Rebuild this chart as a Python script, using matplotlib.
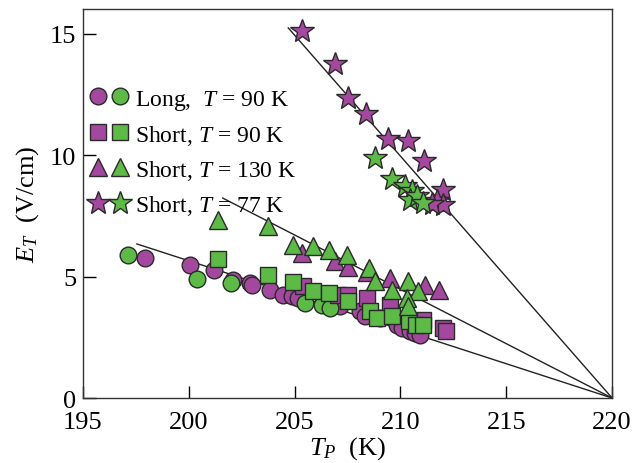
import matplotlib
matplotlib.use("Agg")
import matplotlib.pyplot as plt
from matplotlib.lines import Line2D
from matplotlib.legend_handler import HandlerTuple

plt.rcParams['font.family'] = ['Liberation Serif', 'DejaVu Serif']
plt.rcParams['mathtext.fontset'] = 'custom'
plt.rcParams['mathtext.rm'] = 'Liberation Serif'
plt.rcParams['mathtext.it'] = 'Liberation Serif:italic'

PURPLE = '#A4489F'
GREEN = '#5DBA47'
EDGE = '#2a2a2a'

# Long, T = 90 K (circles)
circ_p_T = [197.93, 200.06, 201.19, 202.09, 202.89, 202.99, 203.84, 204.45, 204.88, 205.16,
            207.15, 208.09, 208.33, 209.04, 209.84, 210.08, 210.45, 210.69, 210.93]
circ_p_E = [5.76, 5.47, 5.27, 4.86, 4.73, 4.65, 4.44, 4.24, 4.20, 4.12,
            3.79, 3.58, 3.37, 3.29, 3.00, 2.88, 2.76, 2.67, 2.59]
circ_g_T = [197.13, 200.39, 201.99, 205.49, 206.29, 206.67]
circ_g_E = [5.88, 4.90, 4.73, 3.91, 3.83, 3.70]

# Short, T = 90 K (squares)
sq_p_T = [205.40, 207.05, 207.52, 208.42, 209.51, 211.07, 212.01, 212.16]
sq_p_E = [4.61, 4.24, 4.24, 4.12, 3.83, 3.21, 2.88, 2.76]
sq_g_T = [201.38, 203.74, 204.92, 205.87, 206.63, 207.52, 208.56, 208.89, 209.60, 210.41, 210.74, 211.07]
sq_g_E = [5.72, 5.06, 4.77, 4.40, 4.32, 3.99, 3.58, 3.29, 3.37, 3.17, 3.00, 3.00]

# Short, T = 130 K (triangles)
tri_p_T = [205.35, 206.91, 207.52, 208.42, 209.51, 211.16, 211.82]
tri_p_E = [5.97, 5.64, 5.39, 5.20, 4.94, 4.65, 4.44]
tri_g_T = [201.38, 203.74, 204.92, 205.87, 206.63, 207.48, 208.52, 208.80, 209.60, 210.36, 210.83, 210.31, 210.36]
tri_g_E = [7.33, 7.08, 6.30, 6.26, 6.09, 5.88, 5.35, 4.81, 4.44, 4.81, 4.40, 4.12, 3.79]

# Short, T = 77 K (stars)
star_p_T = [205.35, 206.91, 207.52, 208.37, 209.41, 210.36, 211.11, 212.01, 211.73, 212.01, 211.50]
star_p_E = [15.1, 13.74, 12.35, 11.69, 10.66, 10.58, 9.75, 8.56, 8.11, 7.94, 8.00]
star_g_T = [208.80, 209.60, 210.22, 210.55, 210.45, 210.78, 211.07]
star_g_E = [9.88, 9.01, 8.72, 8.52, 8.15, 8.31, 8.02]

# Guide lines converging at (220, 0)
line_start_T = [204.7, 201.6, 197.55]
line_start_E = [15.23, 8.23, 6.34]
line_end_T = 220.0
line_end_E = 0.0

xticks = [195, 200, 205, 210, 215, 220]
yticks = [0, 5, 10, 15]

fig = plt.figure(figsize=(6.43, 4.64), dpi=100)
ax = fig.add_axes([0.129, 0.14, 0.823, 0.838])

for t0, e0 in zip(line_start_T, line_start_E):
    ax.plot([t0, line_end_T], [e0, line_end_E], color='#222222', lw=1.0, zorder=1)

def pts(T, E, marker, color, ms, z):
    ax.plot(T, E, linestyle='none', marker=marker, color=color, markersize=ms,
            markeredgecolor=EDGE, markeredgewidth=1.0, zorder=z)

pts(circ_p_T, circ_p_E, 'o', PURPLE, 12, 2)
pts(circ_g_T, circ_g_E, 'o', GREEN, 12, 3)
pts(sq_p_T, sq_p_E, 's', PURPLE, 11, 4)
pts(sq_g_T, sq_g_E, 's', GREEN, 11, 5)
pts(tri_p_T, tri_p_E, '^', PURPLE, 13, 6)
pts(tri_g_T, tri_g_E, '^', GREEN, 13, 7)
pts(star_p_T, star_p_E, '*', PURPLE, 18, 8)
pts(star_g_T, star_g_E, '*', GREEN, 18, 9)

ax.set_xlim(195, 220)
ax.set_ylim(0, 16)
ax.set_xticks(xticks)
ax.set_yticks(yticks)
ax.tick_params(direction='in', length=9, width=1.0, labelsize=19, top=False, right=False)
ax.tick_params(axis='x', pad=9)
ax.tick_params(axis='y', pad=5)
for s in ax.spines.values():
    s.set_linewidth(1.0)
    s.set_color('#333333')

ax.set_xlabel(r'$T_P$  (K)', fontsize=19, labelpad=1)
ax.set_ylabel(r'$E_T$  (V/cm)', fontsize=19, labelpad=6)

def mk(marker, color, ms):
    return Line2D([], [], linestyle='none', marker=marker, color=color, markersize=ms,
                  markeredgecolor=EDGE, markeredgewidth=1.0)

handles = [
    (mk('o', PURPLE, 12), mk('o', GREEN, 12)),
    (mk('s', PURPLE, 11), mk('s', GREEN, 11)),
    (mk('^', PURPLE, 13), mk('^', GREEN, 13)),
    (mk('*', PURPLE, 18), mk('*', GREEN, 18)),
]
labels = [r'Long,  $T$ = 90 K', r'Short, $T$ = 90 K', r'Short, $T$ = 130 K', r'Short, $T$ = 77 K']
ax.legend(handles, labels, handler_map={tuple: HandlerTuple(ndivide=None, pad=0.2)},
          loc='upper left', bbox_to_anchor=(-0.013, 0.835), frameon=False, fontsize=17,
          handlelength=1.6, handletextpad=0.3, labelspacing=0.47, borderaxespad=0.2)

fig.savefig('out.png', dpi=100)
